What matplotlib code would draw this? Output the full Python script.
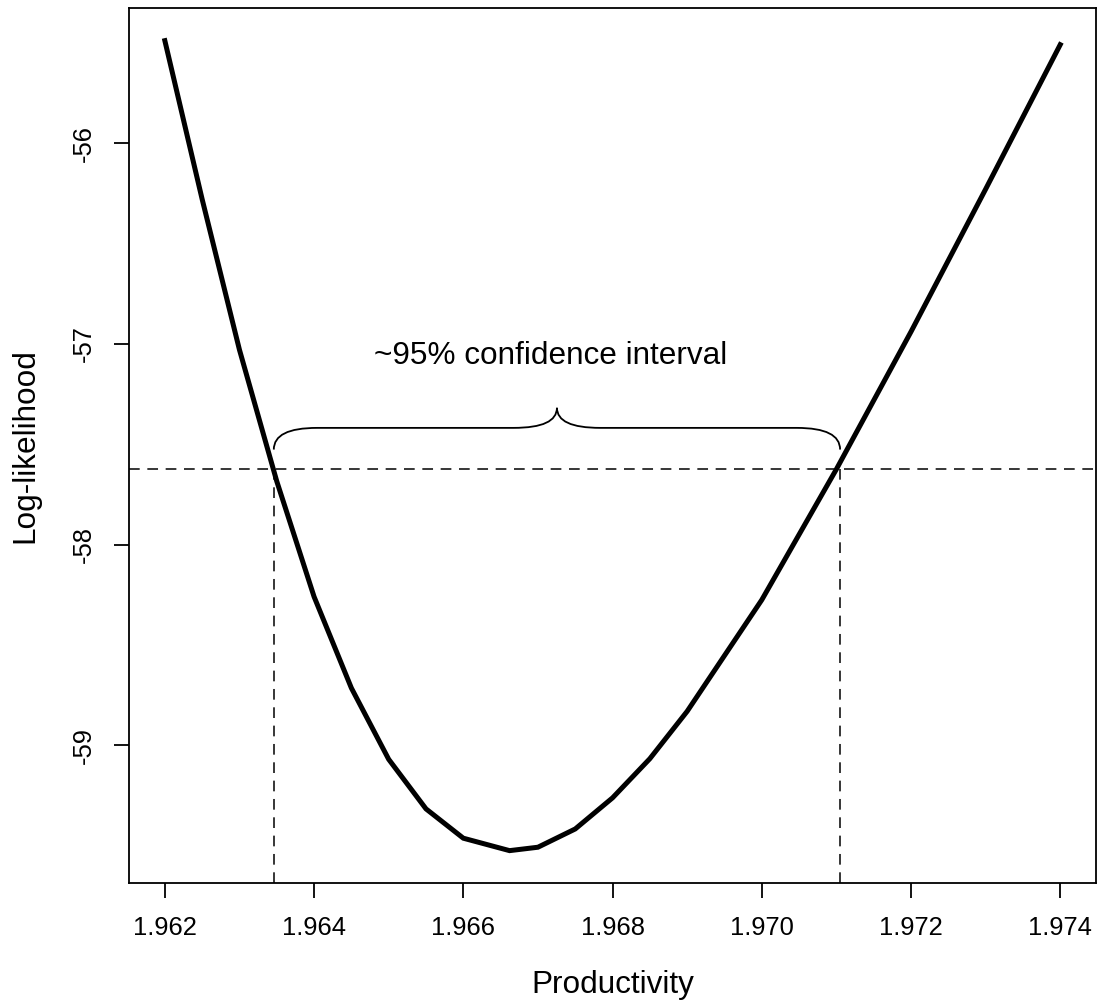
import matplotlib
matplotlib.use("Agg")
import matplotlib.pyplot as plt
from matplotlib.path import Path
from matplotlib.patches import PathPatch

plt.rcParams['font.family'] = ['Liberation Sans', 'DejaVu Sans']

# ---- data ----
productivity = [1.962, 1.9625, 1.963, 1.9635, 1.964, 1.9645, 1.965, 1.9655,
                1.966, 1.96662, 1.967, 1.9675, 1.968, 1.9685, 1.969, 1.970,
                1.971, 1.972, 1.973, 1.974]
loglik = [-55.49, -56.28, -57.03, -57.685, -58.26, -58.715, -59.07, -59.317,
          -59.463, -59.525, -59.508, -59.417, -59.262, -59.067, -58.831,
          -58.276, -57.625, -56.94, -56.23, -55.51]
threshold = -57.623
ci_low = 1.96346
ci_high = 1.97105
x_ticks = [1.962, 1.964, 1.966, 1.968, 1.970, 1.972, 1.974]
x_ticklabels = ["1.962", "1.964", "1.966", "1.968", "1.970", "1.972", "1.974"]
y_ticks = [-56, -57, -58, -59]
y_ticklabels = ["-56", "-57", "-58", "-59"]
annotation = "~95% confidence interval"

fig = plt.figure(figsize=(11, 10.07), dpi=100)
ax = fig.add_axes([0.1173, 0.1231, 0.8791, 0.8687])

ax.plot(productivity, loglik, color='black', lw=3.6, solid_joinstyle='miter',
        zorder=3)

# R-like 4% padding
xr = max(productivity) - min(productivity)
yr = max(loglik) - min(loglik)
ax.set_xlim(min(productivity) - 0.04 * xr, max(productivity) + 0.04 * xr)
ax.set_ylim(min(loglik) - 0.04 * yr, max(loglik) + 0.04 * yr)

dash = (0, (7, 5))
ax.axhline(threshold, color='black', lw=1.1, linestyle=dash, zorder=2)
ymin = ax.get_ylim()[0]
ax.plot([ci_low, ci_low], [ymin, threshold], color='black', lw=1.1,
        linestyle=dash, zorder=2)
ax.plot([ci_high, ci_high], [ymin, threshold], color='black', lw=1.1,
        linestyle=dash, zorder=2)

# curly brace above the interval
y0 = threshold + 0.096
yh = threshold + 0.204
yt = threshold + 0.304
xm = (ci_low + ci_high) / 2
dx = 0.00058
verts = [(ci_low, y0), (ci_low, yh), (ci_low + dx, yh),
         (xm - dx, yh),
         (xm, yh), (xm, yt),
         (xm, yh), (xm + dx, yh),
         (ci_high - dx, yh),
         (ci_high, yh), (ci_high, y0)]
codes = [Path.MOVETO, Path.CURVE3, Path.CURVE3,
         Path.LINETO,
         Path.CURVE3, Path.CURVE3,
         Path.CURVE3, Path.CURVE3,
         Path.LINETO,
         Path.CURVE3, Path.CURVE3]
ax.add_patch(PathPatch(Path(verts, codes), facecolor='none',
                       edgecolor='black', lw=1.3, zorder=2))

ax.text(xm - 0.00008, threshold + 0.521, annotation, ha='center',
        va='baseline', fontsize=22.7)

ax.set_xticks(x_ticks)
ax.set_xticklabels(x_ticklabels)
ax.set_yticks(y_ticks)
ax.set_yticklabels(y_ticklabels, rotation=90, va='center')
ax.tick_params(axis='both', direction='out', length=10.8, width=1.3,
               labelsize=18.4, color='black')
ax.tick_params(axis='x', pad=13)
ax.tick_params(axis='y', pad=13)
for s in ax.spines.values():
    s.set_linewidth(1.3)

ax.set_xlabel("Productivity", fontsize=22.7, va='center')
ax.xaxis.set_label_coords(0.5, -0.1166)
ax.set_ylabel("Log-likelihood", fontsize=22.7, va='center')
ax.yaxis.set_label_coords(-0.1075, 0.5)

fig.savefig("out.png", dpi=100)
